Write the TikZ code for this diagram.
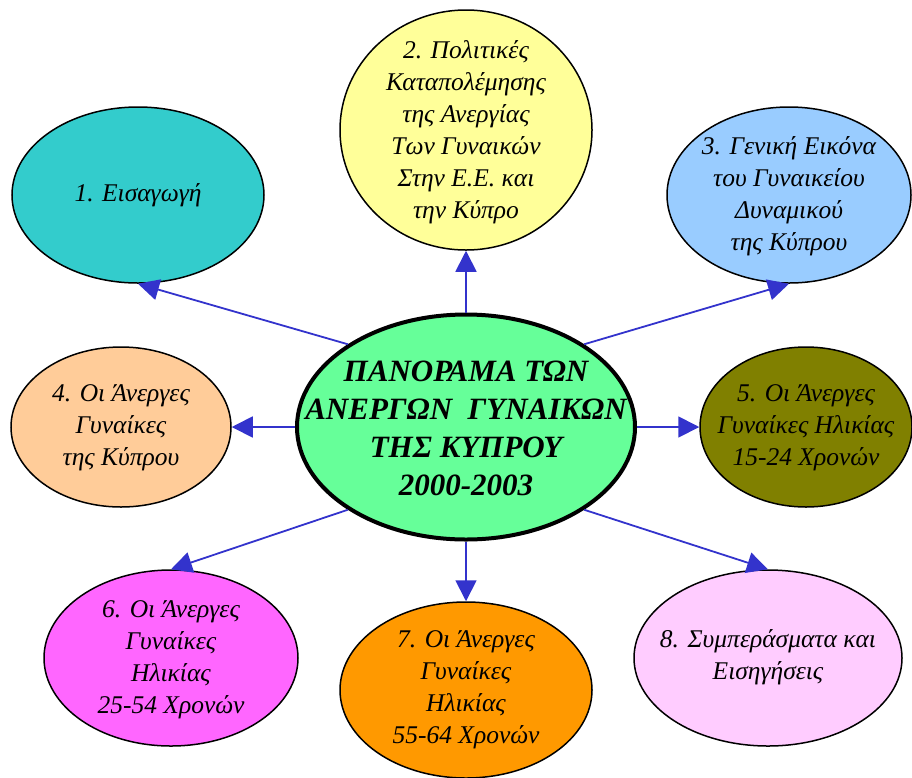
\documentclass[tikz,border=0pt]{standalone}
\usepackage{fontspec}
\setmainfont{Liberation Serif}
\usetikzlibrary{shapes.geometric,arrows.meta}
\definecolor{cTeal}{HTML}{33CCCC}
\definecolor{cYellow}{HTML}{FFFF99}
\definecolor{cBlue}{HTML}{99CCFF}
\definecolor{cPeach}{HTML}{FFCC99}
\definecolor{cOlive}{HTML}{808000}
\definecolor{cMagenta}{HTML}{FF66FF}
\definecolor{cOrange}{HTML}{FF9900}
\definecolor{cPink}{HTML}{FFCCFF}
\definecolor{cGreen}{HTML}{66FF99}
\definecolor{cArrow}{HTML}{3333CC}
\tikzset{
  topic/.style={ellipse, draw=black, line width=1.5pt, inner sep=0pt},
  topictext/.style={inner sep=0pt, align=center,
    font=\fontsize{25.5}{32}\selectfont\itshape},
  hub/.style={ellipse, draw=black, line width=4pt, fill=cGreen, inner sep=0pt,
    minimum width=338pt, minimum height=225pt},
  hubtext/.style={inner sep=0pt, align=center,
    font=\fontsize{31}{38}\selectfont\bfseries\itshape},
  link/.style={draw=cArrow, line width=1.8pt, -{Triangle[length=21pt,width=21pt]}}
}
\begin{document}
\begin{tikzpicture}[x=1pt,y=-1pt]
\useasboundingbox (0,0) rectangle (912,777);
\node[hub] (c) at (466,427) {};
\node[hubtext] (ct) at (466,428) {ΠΑΝΟΡΑΜΑ ΤΩΝ\\ΑΝΕΡΓΩΝ\ \ ΓΥΝΑΙΚΩΝ\\ΤΗΣ ΚΥΠΡΟΥ\\2000-2003};
\node[topic, fill=cTeal, minimum width=252pt, minimum height=176pt] (e1) at (138,195) {};
\node[topic, fill=cYellow, minimum width=252pt, minimum height=240pt] (e2) at (466,130) {};
\node[topic, fill=cBlue, minimum width=244pt, minimum height=176pt] (e3) at (789,195) {};
\node[topic, fill=cPeach, minimum width=220pt, minimum height=160pt] (e4) at (121,427) {};
\node[topic, fill=cOlive, minimum width=212pt, minimum height=160pt] (e5) at (806,427) {};
\node[topic, fill=cMagenta, minimum width=254pt, minimum height=176pt] (e6) at (171,658) {};
\node[topic, fill=cOrange, minimum width=252pt, minimum height=176pt] (e7) at (466,690) {};
\node[topic, fill=cPink, minimum width=268pt, minimum height=176pt] (e8) at (768,658) {};
\node[topictext] (t1) at (138,195) {1. Εισαγωγή};
\node[topictext] (t2) at (466,132) {2. Πολιτικές\\Καταπολέμησης\\της Ανεργίας\\Των Γυναικών\\Στην Ε.Ε. και\\την Κύπρο};
\node[topictext] (t3) at (789,196) {3. Γενική Εικόνα\\του Γυναικείου\\Δυναμικού\\της Κύπρου};
\node[topictext] (t4) at (121,428) {4. Οι Άνεργες\\Γυναίκες\\της Κύπρου};
\node[topictext] (t5) at (806,428) {5. Οι Άνεργες\\Γυναίκες Ηλικίας\\15-24 Χρονών};
\node[topictext] (t6) at (171,660) {6. Οι Άνεργες\\Γυναίκες\\Ηλικίας\\25-54 Χρονών};
\node[topictext] (t7) at (466,690) {7. Οι Άνεργες\\Γυναίκες\\Ηλικίας\\55-64 Χρονών};
\node[topictext] (t8) at (768,657) {8. Συμπεράσματα και\\Εισηγήσεις};
\draw[link] (c.145) -- (e1.south);
\draw[link] (c.north) -- (e2.south);
\draw[link] (c.35) -- (e3.south);
\draw[link] (c.west) -- (e4.east);
\draw[link] (c.east) -- (e5.west);
\draw[link] (c.215) -- (e6.north);
\draw[link] (c.south) -- (e7.north);
\draw[link] (c.325) -- (e8.north);
\end{tikzpicture}
\end{document}
